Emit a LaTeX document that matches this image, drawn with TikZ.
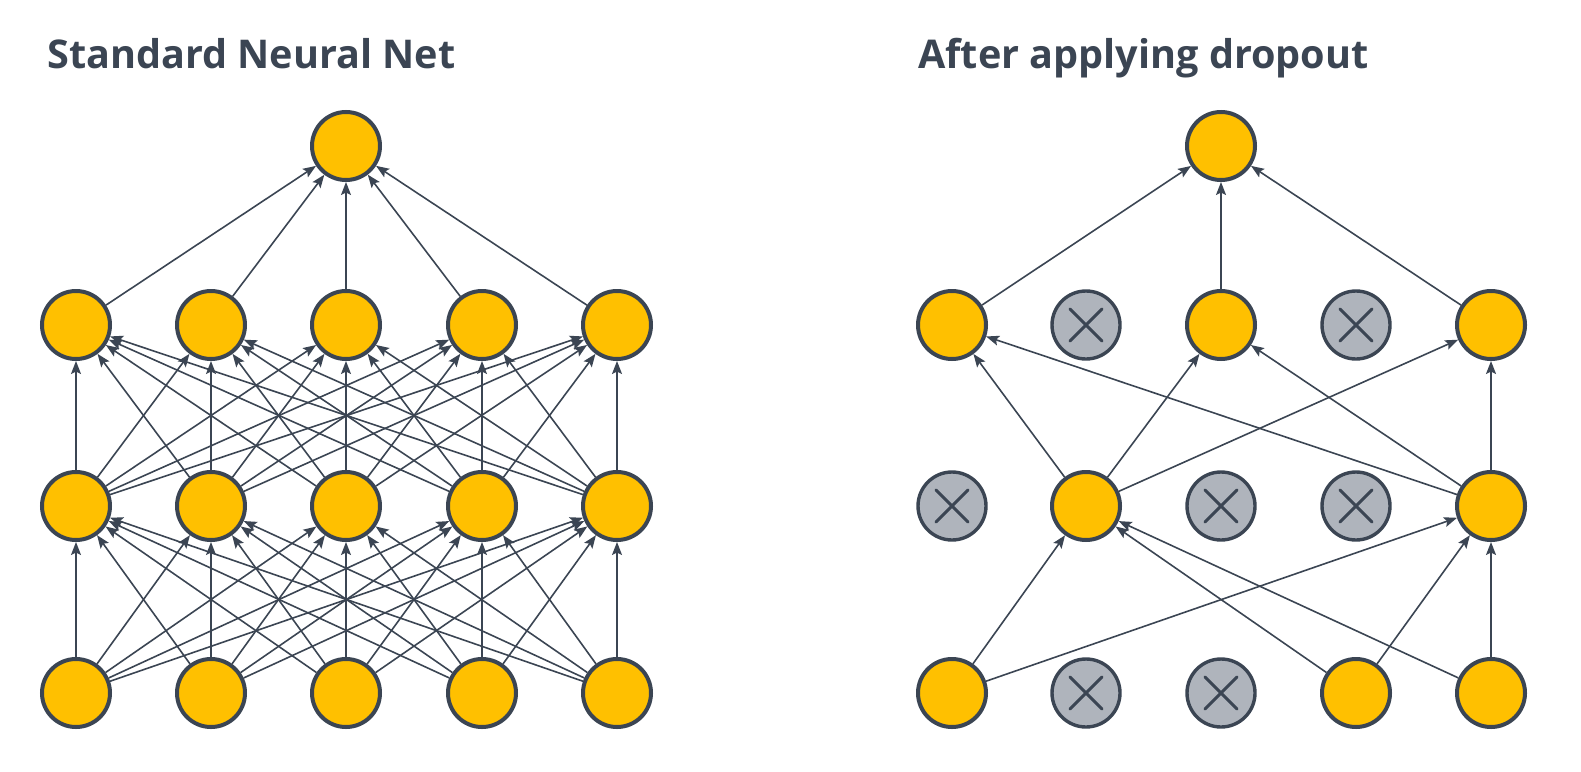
\documentclass[tikz,border=0pt]{standalone}
\usepackage{fontspec}
\setmainfont{Open Sans}
\usetikzlibrary{arrows.meta}
\definecolor{dark}{HTML}{3B4553}
\definecolor{gold}{HTML}{FFC000}
\definecolor{grayfill}{HTML}{AFB4BC}
\begin{document}
\begin{tikzpicture}[x=1pt,y=-1pt,
  unit/.style={circle,draw=dark,line width=4pt,fill=gold,minimum size=68pt,inner sep=0pt,outer sep=2pt},
  dropped/.style={circle,draw=dark,line width=3.4pt,fill=grayfill,minimum size=68pt,inner sep=0pt,outer sep=1.7pt,
    path picture={\draw[dark,line width=3pt,line cap=round] ([shift={(-16pt,-16pt)}]path picture bounding box.center) -- ([shift={(16pt,16pt)}]path picture bounding box.center) ([shift={(-16pt,16pt)}]path picture bounding box.center) -- ([shift={(16pt,-16pt)}]path picture bounding box.center);}},
  conn/.style={dark,line width=1.6pt,-{Stealth[length=13pt,width=10pt,inset=2.5pt]}},
  title/.style={anchor=base west,text=dark,font=\fontsize{39.6}{47}\selectfont\bfseries,inner sep=0pt}]
\useasboundingbox (0,0) rectangle (1581,771);
\node[title] (t1) at (47,68) {Standard Neural Net};
\node[title] (t2) at (918,68) {After applying dropout};
% left network
\foreach \i/\x in {1/76,2/211,3/346,4/482,5/617}{
  \node[unit] (a\i) at (\x,693) {};
  \node[unit] (b\i) at (\x,506) {};
  \node[unit] (c\i) at (\x,325) {};
}
\node[unit] (o) at (346,146) {};
\foreach \i in {1,...,5}{
  \foreach \j in {1,...,5}{
    \draw[conn] (a\i) -- (b\j);
    \draw[conn] (b\i) -- (c\j);
  }
  \draw[conn] (c\i) -- (o);
}
% right network
\node[unit] (ra1) at (952,693) {};
\node[dropped] (ra2) at (1086,693) {};
\node[dropped] (ra3) at (1221,693) {};
\node[unit] (ra4) at (1356,693) {};
\node[unit] (ra5) at (1491,693) {};
\node[dropped] (rb1) at (952,506) {};
\node[unit] (rb2) at (1086,506) {};
\node[dropped] (rb3) at (1221,506) {};
\node[dropped] (rb4) at (1356,506) {};
\node[unit] (rb5) at (1491,506) {};
\node[unit] (rc1) at (952,325) {};
\node[dropped] (rc2) at (1086,325) {};
\node[unit] (rc3) at (1221,325) {};
\node[dropped] (rc4) at (1356,325) {};
\node[unit] (rc5) at (1491,325) {};
\node[unit] (ro) at (1221,146) {};
\foreach \i in {1,4,5}{
  \foreach \j in {2,5}{\draw[conn] (ra\i) -- (rb\j);}
}
\foreach \i in {2,5}{
  \foreach \j in {1,3,5}{\draw[conn] (rb\i) -- (rc\j);}
}
\foreach \i in {1,3,5}{\draw[conn] (rc\i) -- (ro);}
\end{tikzpicture}
\end{document}
